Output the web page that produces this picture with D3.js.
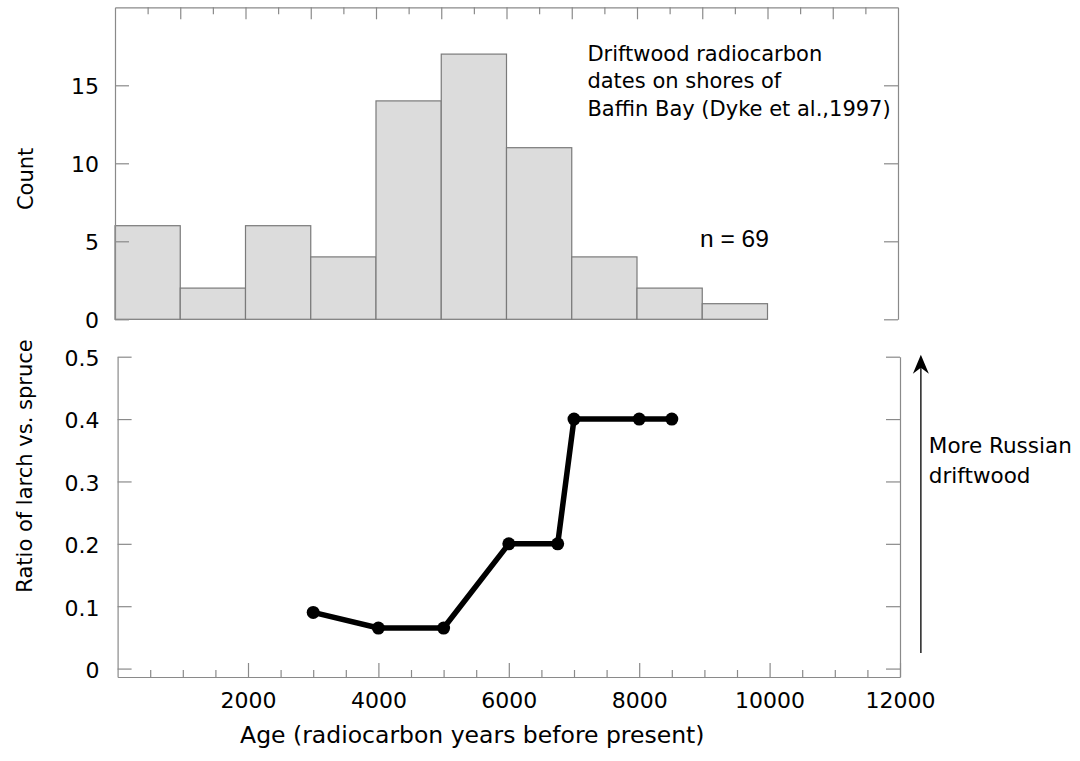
<!DOCTYPE html>
<html>
<head>
<meta charset="utf-8">
<script src="https://cdn.jsdelivr.net/npm/d3@7"></script>
<style>
  html, body { margin: 0; padding: 0; background: #fff; }
  svg { display: block; }
  text { font-family: "DejaVu Sans", Verdana, sans-serif; fill: #000; }
</style>
</head>
<body>
<svg id="chart" width="1080" height="761"></svg>
<script>
// ---------- DATA ----------
const binStarts = [0, 1000, 2000, 3000, 4000, 5000, 6000, 7000, 8000, 9000];
const binWidth = 1000;
const counts = [6, 2, 6, 4, 14, 17, 11, 4, 2, 1];

const ages = [3000, 4000, 5000, 6000, 6750, 7000, 8000, 8500];
const ratios = [0.09, 0.065, 0.065, 0.2, 0.2, 0.4, 0.4, 0.4];

const countTicks = [0, 5, 10, 15];
const ratioTicks = [0, 0.1, 0.2, 0.3, 0.4, 0.5];
const ageLabelTicks = [2000, 4000, 6000, 8000, 10000, 12000];

const annotationLines = ["Driftwood radiocarbon", "dates on shores of", "Baffin Bay (Dyke et al.,1997)"];
const nLabel = "n = 69";
const arrowLines = ["More Russian", "driftwood"];

// ---------- SETUP ----------
const svg = d3.select("#chart");
const axisColor = "#8a8a8a";

// Top panel scales
const xT = d3.scaleLinear().domain([0, 12000]).range([115, 898]);
const yT = d3.scaleLinear().domain([0, 20]).range([319.3, 7.3]);

// Bottom panel scales
const xB = d3.scaleLinear().domain([0, 12000]).range([117.6, 900]);
const yB = d3.scaleLinear().domain([-0.0135, 0.5]).range([677, 356.7]);

function styleAxis(g) {
  g.selectAll("path, line").attr("stroke", axisColor).attr("stroke-width", 1.2);
  g.selectAll("text").attr("fill", "#000").style("font-family", '"DejaVu Sans", Verdana, sans-serif');
}

// ---------- TOP PANEL ----------
const topG = svg.append("g");

// Bars
topG.selectAll("rect.bar")
  .data(binStarts.map((s, i) => ({ s, c: counts[i] })))
  .join("rect")
  .attr("class", "bar")
  .attr("x", d => xT(d.s))
  .attr("width", d => xT(d.s + binWidth) - xT(d.s))
  .attr("y", d => yT(d.c))
  .attr("height", d => yT(0) - yT(d.c))
  .attr("fill", "#dcdcdc")
  .attr("stroke", "#7a7a7a")
  .attr("stroke-width", 1.2);

// Top border with downward ticks
const topMinor = topG.append("g").attr("transform", `translate(0,${yT(20)})`)
  .call(d3.axisTop(xT).tickValues(d3.range(500, 12000, 1000)).tickSize(-7).tickSizeOuter(0).tickFormat(""));
styleAxis(topMinor);
const topMajor = topG.append("g").attr("transform", `translate(0,${yT(20)})`)
  .call(d3.axisTop(xT).tickValues(d3.range(1000, 12000, 1000)).tickSize(-12).tickSizeOuter(0).tickFormat(""));
styleAxis(topMajor);
topMajor.select(".domain").remove();

// Left axis
const leftT = topG.append("g").attr("transform", `translate(${xT(0)},0)`)
  .call(d3.axisLeft(yT).tickValues(countTicks).tickSize(-14).tickSizeOuter(0).tickPadding(16));
styleAxis(leftT);
leftT.selectAll("text").style("font-size", "22px").attr("dy", "0.36em");

// Right axis
const rightT = topG.append("g").attr("transform", `translate(${xT(12000)},0)`)
  .call(d3.axisRight(yT).tickValues(countTicks).tickSize(-14).tickSizeOuter(0).tickFormat(""));
styleAxis(rightT);

// Count label
svg.append("text")
  .attr("transform", `translate(33,${yT(9)}) rotate(-90)`)
  .attr("text-anchor", "middle")
  .style("font-size", "21px")
  .text("Count");

// Annotation
const ann = svg.append("text")
  .attr("x", xT(7240))
  .attr("y", yT(16.56))
  .style("font-size", "21px");
ann.selectAll("tspan").data(annotationLines).join("tspan")
  .attr("x", xT(7240))
  .attr("dy", (d, i) => i === 0 ? 0 : 27.5)
  .text(d => d);

svg.append("text")
  .attr("x", xT(8966))
  .attr("y", yT(4.62))
  .style("font-family", '"Liberation Sans", Arial, sans-serif')
  .style("font-size", "24.5px")
  .text(nLabel);

// ---------- BOTTOM PANEL ----------
const botG = svg.append("g");

// bottom x axis minor ticks
const botMinor = botG.append("g").attr("transform", `translate(0,${yB(-0.0135)})`)
  .call(d3.axisBottom(xB).tickValues(d3.range(500, 12000, 500).filter(v => v % 2000 !== 0)).tickSize(-7).tickSizeOuter(0).tickFormat(""));
styleAxis(botMinor);
const botMajor = botG.append("g").attr("transform", `translate(0,${yB(-0.0135)})`)
  .call(d3.axisBottom(xB).tickValues(ageLabelTicks).tickSize(-14).tickSizeOuter(0).tickPadding(15).tickFormat(d3.format("d")));
styleAxis(botMajor);
botMajor.select(".domain").remove();
botMajor.selectAll("text").style("font-size", "22px");

// left axis
const leftB = botG.append("g").attr("transform", `translate(${xB(0)},0)`)
  .call(d3.axisLeft(yB).tickValues(ratioTicks).tickSize(-14).tickSizeOuter(0).tickPadding(18)
    .tickFormat(d => d === 0 ? "0" : d3.format(".1f")(d)));
styleAxis(leftB);
leftB.selectAll("text").style("font-size", "22px").attr("dy", "0.4em");

// right axis
const rightB = botG.append("g").attr("transform", `translate(${xB(12000)},0)`)
  .call(d3.axisRight(yB).tickValues(ratioTicks).tickSize(-14).tickSizeOuter(0).tickFormat(""));
styleAxis(rightB);

// line
const line = d3.line().x(d => xB(d[0])).y(d => yB(d[1]));
const pts = ages.map((a, i) => [a, ratios[i]]);
botG.append("path")
  .datum(pts)
  .attr("d", line)
  .attr("fill", "none")
  .attr("stroke", "#000")
  .attr("stroke-width", 5.5)
  .attr("stroke-linejoin", "round");
botG.selectAll("circle.pt").data(pts).join("circle")
  .attr("class", "pt")
  .attr("cx", d => xB(d[0]))
  .attr("cy", d => yB(d[1]))
  .attr("r", 6.5)
  .attr("fill", "#000");

// y label
svg.append("text")
  .attr("transform", `translate(32,466) rotate(-90)`)
  .attr("text-anchor", "middle")
  .style("font-size", "21px")
  .text("Ratio of larch vs. spruce");

// x label
svg.append("text")
  .attr("x", xB(5440))
  .attr("y", 743)
  .attr("text-anchor", "middle")
  .style("font-size", "23.5px")
  .text("Age (radiocarbon years before present)");

// arrow
const ax = xB(12320);
const yTip = yB(0.503);
const yBase = yB(0.025);
botG.append("line")
  .attr("x1", ax).attr("x2", ax)
  .attr("y1", yBase).attr("y2", yTip + 8)
  .attr("stroke", "#222").attr("stroke-width", 1.5);
botG.append("path")
  .attr("d", `M${ax},${yTip} L${ax + 8},${yTip + 19} L${ax},${yTip + 13} L${ax - 8},${yTip + 19} Z`)
  .attr("fill", "#000");

const arrowText = svg.append("text")
  .attr("x", ax + 8)
  .attr("y", yB(0.345))
  .style("font-size", "21.5px");
arrowText.selectAll("tspan").data(arrowLines).join("tspan")
  .attr("x", ax + 8)
  .attr("dy", (d, i) => i === 0 ? 0 : 30)
  .text(d => d);
</script>
</body>
</html>
